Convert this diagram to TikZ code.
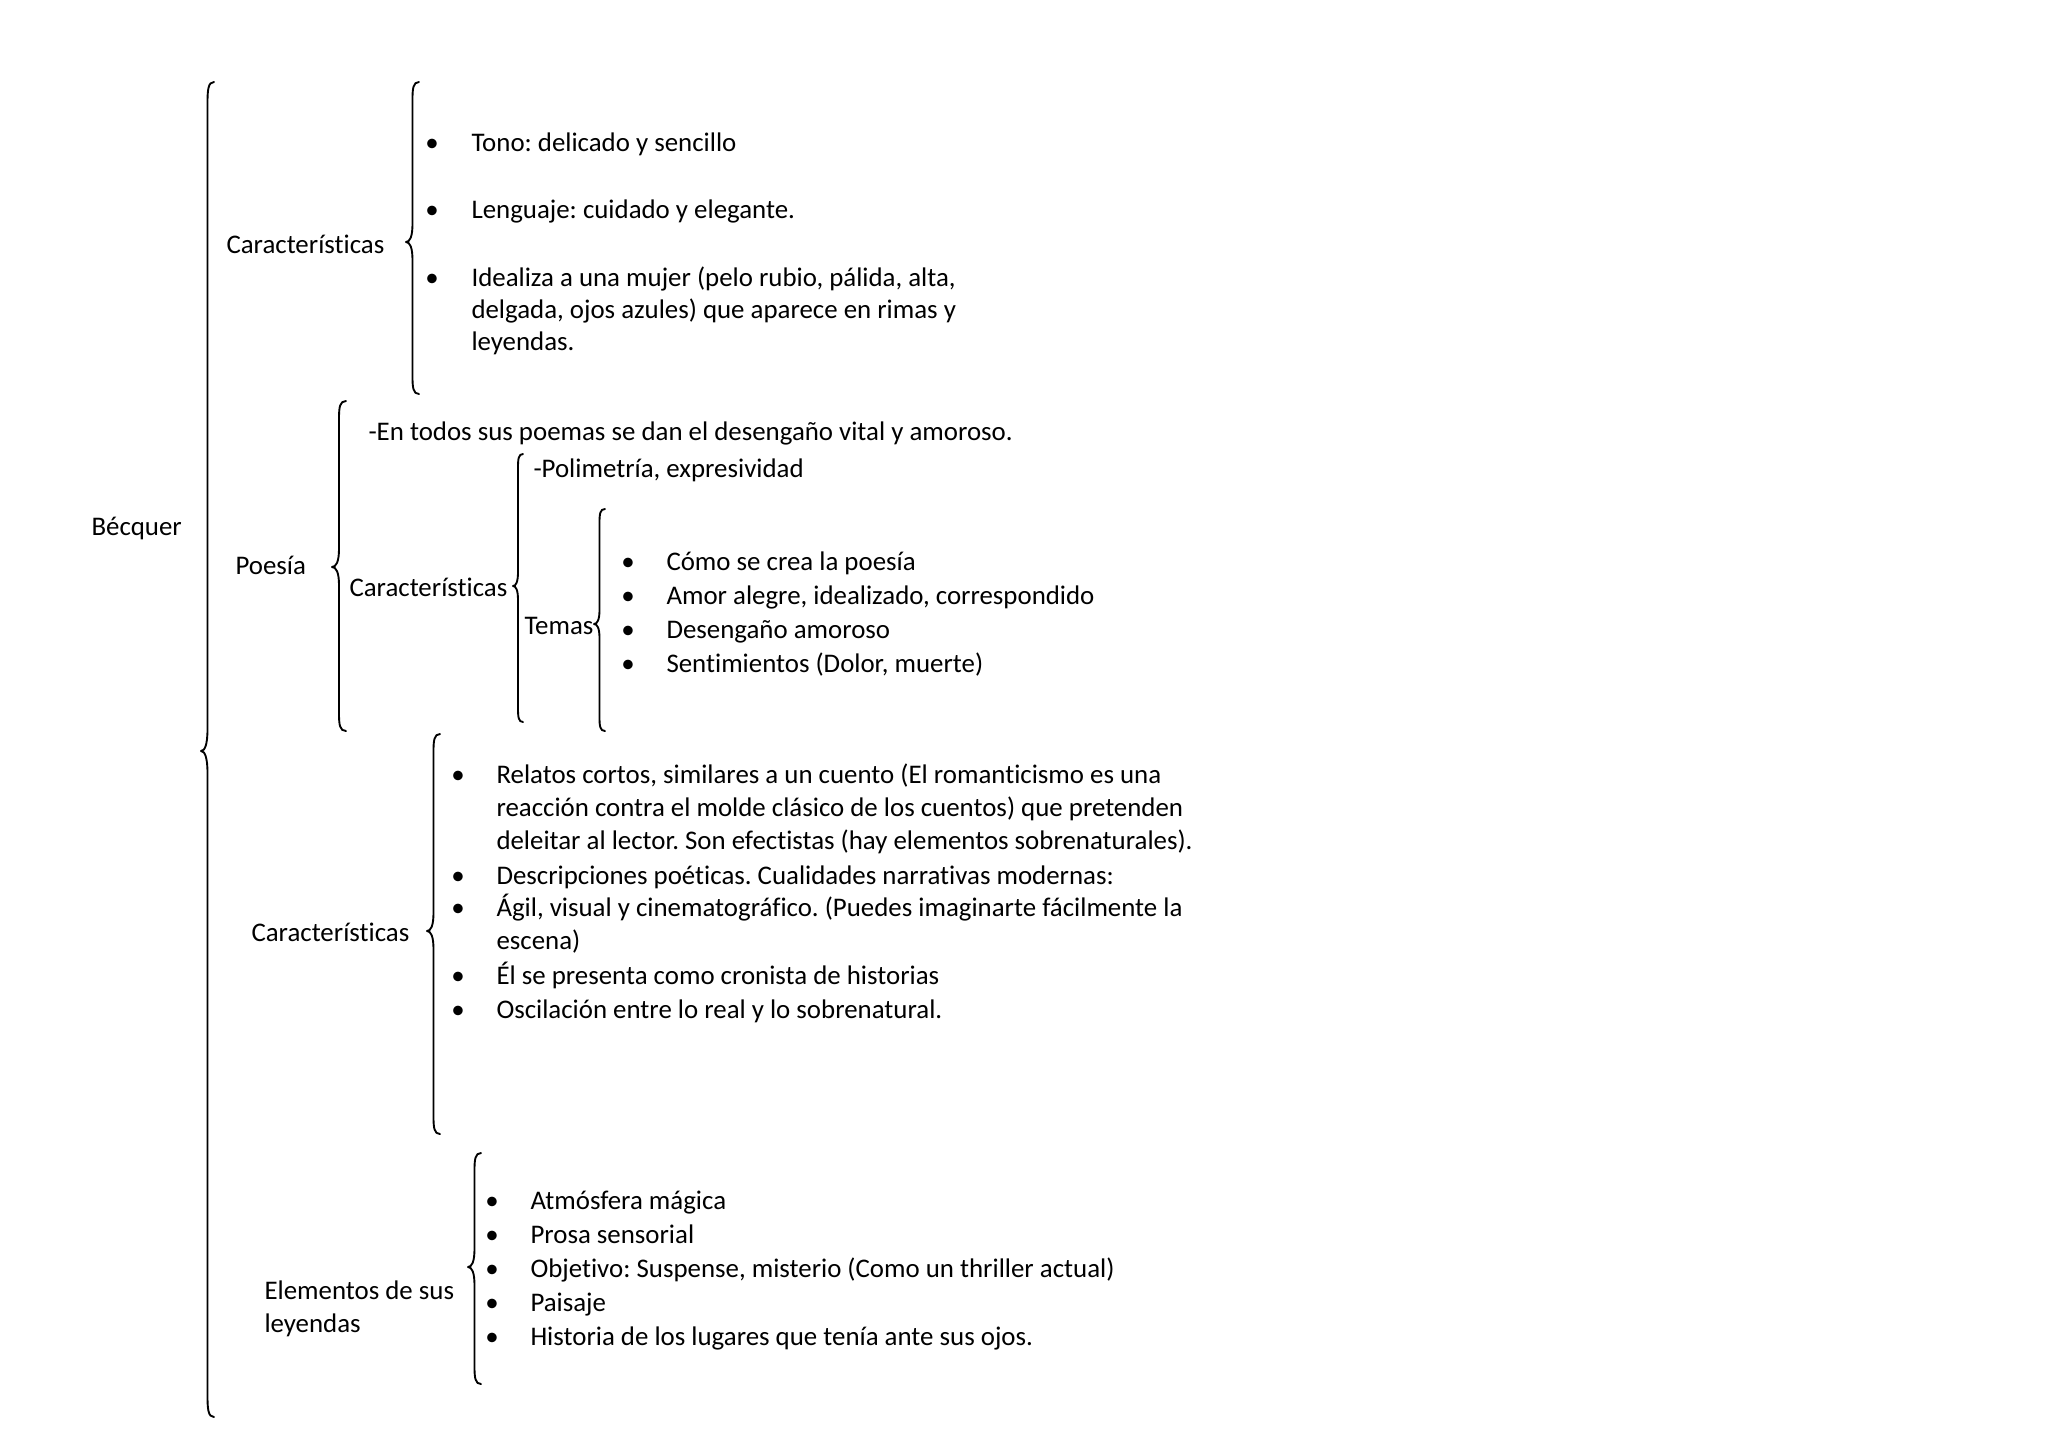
\documentclass[tikz,border=0pt]{standalone}
\usepackage{fontspec}
\setmainfont{Carlito}[RawFeature={-liga;-clig;-calt;-dlig}]
\frenchspacing
\newcommand\msz{\fontsize{10.75}{13}\selectfont}
\tikzset{
  lbl/.style={anchor=base west, inner sep=0pt, font=\msz},
  bul/.style={anchor=base, inner sep=0pt, font=\msz},
  brc/.style={line width=0.75pt, line cap=round, line join=round}
}
% x0 (tip x), top, tip y, bottom, width, radius
\newcommand\wbrace[6]{%
  \draw[brc] (#1+#5,#2) .. controls (#1+0.55*#5,#2) and (#1+0.5*#5,#2+0.35*#6) .. (#1+0.5*#5,#2+#6)
    -- (#1+0.5*#5,#3-#6)
    .. controls (#1+0.5*#5,#3-0.3*#6) and (#1+0.3*#5,#3) .. (#1,#3)
    .. controls (#1+0.3*#5,#3) and (#1+0.5*#5,#3+0.3*#6) .. (#1+0.5*#5,#3+#6)
    -- (#1+0.5*#5,#4-#6)
    .. controls (#1+0.5*#5,#4-0.35*#6) and (#1+0.55*#5,#4) .. (#1+#5,#4);}
\begin{document}
\begin{tikzpicture}[x=0.4pt,y=-0.4pt]
\useasboundingbox (0,0) rectangle (2048,1448);
% braces
\wbrace{201}{82}{751}{1417}{13}{22}
\wbrace{406}{82}{242}{394}{13}{18}
\wbrace{332}{401}{567}{731}{14}{18}
\wbrace{513}{454}{586}{722}{10}{14}
\wbrace{594}{509}{624}{731}{11}{14}
\wbrace{427}{734}{931}{1134}{13}{18}
\wbrace{468}{1153}{1267}{1384}{13}{18}
\begin{scope}[yshift=-1.6pt]
% level 0-1
\node[lbl] (becquer) at (91,531) {Bécquer};
\node[lbl] (car1) at (226,249) {Características};
\node[lbl] (poesia) at (235,570) {Poesía};
\node[lbl] (car3) at (251,937) {Características};
\node[lbl] (elem1) at (264,1295) {Elementos de sus};
\node[lbl] (elem2) at (264,1328) {leyendas};
% block 1
\node[bul] (b1a) at (432,147) {•};
\node[lbl] (t1a) at (471,147) {Tono: delicado y sencillo};
\node[bul] (b1b) at (432,214) {•};
\node[lbl] (t1b) at (471,214) {Lenguaje: cuidado y elegante.};
\node[bul] (b1c) at (432,282) {•};
\node[lbl] (t1c1) at (471,282) {Idealiza a una mujer (pelo rubio, pálida, alta,};
\node[lbl] (t1c2) at (471,314) {delgada, ojos azules) que aparece en rimas y};
\node[lbl] (t1c3) at (471,346) {leyendas.};
% poesia
\node[lbl] (entodos) at (368,436) {-En todos sus poemas se dan el desengaño vital y amoroso.};
\node[lbl] (car2) at (349,592) {Características};
\node[lbl] (polim) at (533,473) {-Polimetría, expresividad};
\node[lbl] (temas) at (524,630) {Temas};
\node[bul] (b2a) at (628,566) {•};
\node[lbl] (t2a) at (666,566) {Cómo se crea la poesía};
\node[bul] (b2b) at (628,600) {•};
\node[lbl] (t2b) at (666,600) {Amor alegre, idealizado, correspondido};
\node[bul] (b2c) at (628,634) {•};
\node[lbl] (t2c) at (666,634) {Desengaño amoroso};
\node[bul] (b2d) at (628,668) {•};
\node[lbl] (t2d) at (666,668) {Sentimientos (Dolor, muerte)};
% block 3
\node[bul] (b3a) at (458,779) {•};
\node[lbl] (t3a1) at (496,779) {Relatos cortos, similares a un cuento (El romanticismo es una};
\node[lbl] (t3a2) at (496,812) {reacción contra el molde clásico de los cuentos) que pretenden};
\node[lbl] (t3a3) at (496,845) {deleitar al lector. Son efectistas (hay elementos sobrenaturales).};
\node[bul] (b3b) at (458,880) {•};
\node[lbl] (t3b) at (496,880) {Descripciones poéticas. Cualidades narrativas modernas:};
\node[bul] (b3c) at (458,912) {•};
\node[lbl] (t3c1) at (496,912) {Ágil, visual y cinematográfico. (Puedes imaginarte fácilmente la};
\node[lbl] (t3c2) at (496,945) {escena)};
\node[bul] (b3d) at (458,980) {•};
\node[lbl] (t3d) at (496,980) {Él se presenta como cronista de historias};
\node[bul] (b3e) at (458,1014) {•};
\node[lbl] (t3e) at (496,1014) {Oscilación entre lo real y lo sobrenatural.};
% block 4
\node[bul] (b4a) at (492,1205) {•};
\node[lbl] (t4a) at (530,1205) {Atmósfera mágica};
\node[bul] (b4b) at (492,1239) {•};
\node[lbl] (t4b) at (530,1239) {Prosa sensorial};
\node[bul] (b4c) at (492,1273) {•};
\node[lbl] (t4c) at (530,1273) {Objetivo: Suspense, misterio (Como un thriller actual)};
\node[bul] (b4d) at (492,1307) {•};
\node[lbl] (t4d) at (530,1307) {Paisaje};
\node[bul] (b4e) at (492,1341) {•};
\node[lbl] (t4e) at (530,1341) {Historia de los lugares que tenía ante sus ojos.};
\end{scope}
\end{tikzpicture}
\end{document}
